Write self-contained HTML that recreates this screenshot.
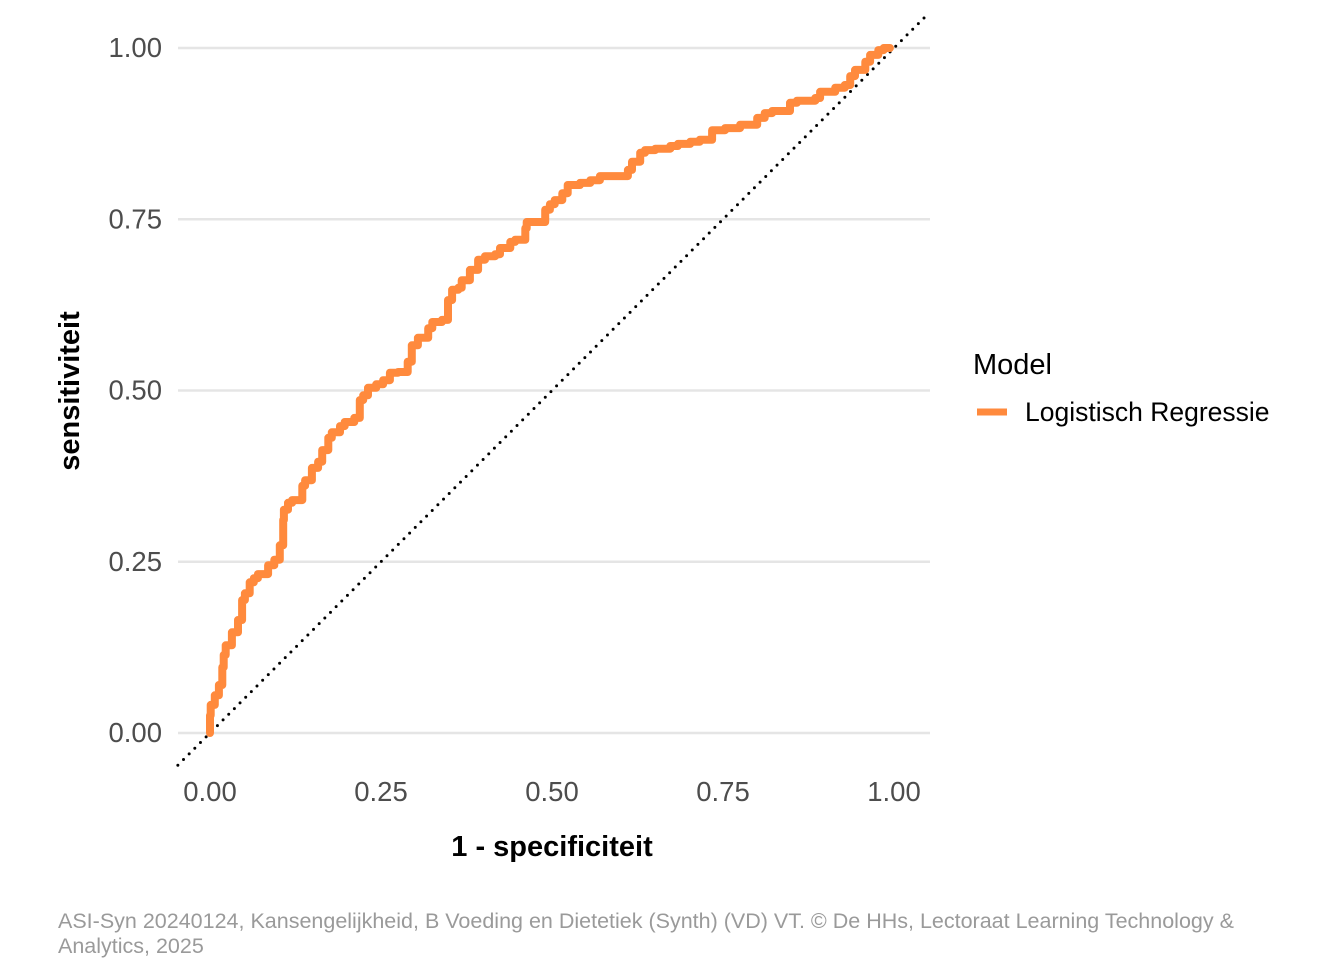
<!DOCTYPE html>
<html><head><meta charset="utf-8"><style>
body{margin:0;background:#fff;width:1344px;height:960px;overflow:hidden;font-family:"Liberation Sans",sans-serif}
</style></head><body>
<svg id="chart" width="1344" height="960" xmlns="http://www.w3.org/2000/svg">
<g id="grid"></g><g id="diag"></g><g id="curve"></g><g id="ticks"></g>
<text x="552" y="856" text-anchor="middle" font-size="29" font-weight="bold" fill="#000">1 - specificiteit</text>
<text transform="translate(79,391) rotate(-90)" text-anchor="middle" font-size="29" font-weight="bold" fill="#000">sensitiviteit</text>
<g>
<text x="973" y="374" font-size="29" fill="#000">Model</text>
<line x1="977" y1="412" x2="1007" y2="412" stroke="#FF8A3D" stroke-width="7"/>
<text x="1025" y="421" font-size="26.5" fill="#000">Logistisch Regressie</text>
</g>
<text font-size="21.5" fill="#9a9a9a"><tspan x="58" y="928">ASI-Syn 20240124, Kansengelijkheid, B Voeding en Dietetiek (Synth) (VD) VT. © De HHs, Lectoraat Learning Technology &amp;</tspan><tspan x="58" y="953">Analytics, 2025</tspan></text>
</svg>
<script>
const tickVals=[0,0.25,0.5,0.75,1];
const tickLabels=["0.00","0.25","0.50","0.75","1.00"];
const fpr=[0,.001,.007,.013,.018,.020,.023,.032,.041,.047,.051,.058,.064,.070,.085,.094,.102,.107,.108,.114,.120,.135,.139,.149,.158,.164,.173,.178,.190,.197,.211,.219,.224,.231,.243,.253,.263,.275,.289,.295,.304,.319,.325,.339,.348,.354,.363,.368,.380,.392,.402,.417,.424,.439,.446,.461,.463,.475,.490,.497,.504,.515,.523,.541,.556,.570,.588,.611,.617,.629,.636,.651,.673,.684,.702,.716,.734,.753,.775,.800,.811,.822,.848,.858,.885,.892,.914,.928,.936,.943,.958,.965,.977,.985,.994];
const tpr=[0,.026,.041,.055,.070,.096,.114,.128,.147,.165,.194,.204,.220,.226,.232,.245,.253,.274,.311,.326,.336,.340,.361,.369,.387,.396,.413,.431,.439,.448,.454,.460,.486,.493,.504,.509,.515,.526,.527,.542,.566,.577,.591,.600,.603,.632,.647,.650,.661,.676,.691,.696,.699,.708,.717,.720,.737,.746,.746,.764,.772,.778,.788,.800,.803,.807,.813,.813,.822,.834,.847,.851,.853,.857,.860,.863,.866,.880,.883,.888,.898,.905,.908,.920,.923,.927,.936,.942,.946,.959,.968,.980,.990,.997,1];
const X=v=>210+v*684, Y=v=>733-v*685;
const NS="http://www.w3.org/2000/svg";
function mk(tag,attrs,parent){const e=document.createElementNS(NS,tag);for(const k in attrs)e.setAttribute(k,attrs[k]);document.getElementById(parent).appendChild(e);return e;}
tickVals.forEach((v,i)=>{
 const g=mk('line',{x1:178,x2:930,y1:Y(v),y2:Y(v),stroke:'#e5e5e5','stroke-width':2.5},'grid');
 
 
 const ty=mk('text',{x:162,y:Y(v)+9,'text-anchor':'end','font-size':27.5,fill:'#4d4d4d'},'ticks');ty.textContent=tickLabels[i];
 
 
 const tx=mk('text',{x:X(v),y:801,'text-anchor':'middle','font-size':27.5,fill:'#4d4d4d'},'ticks');tx.textContent=tickLabels[i];
 
 
});
const d=mk('line',{x1:X(-0.047),y1:Y(-0.047),x2:X(1.05),y2:Y(1.05),stroke:'#000','stroke-width':3,'stroke-dasharray':'0 8','stroke-linecap':'round'},'diag');


let p='';fpr.forEach((f,i)=>{
 if(!i){p+='M'+X(f).toFixed(1)+','+Y(tpr[i]).toFixed(1);return;}
 p+='V'+Y(tpr[i]).toFixed(1)+'H'+X(f).toFixed(1);
});
const c=mk('path',{d:p,fill:'none',stroke:'#FF8A3D','stroke-width':8,'stroke-linejoin':'round','stroke-linecap':'round'},'curve');


</script>
</body></html>
